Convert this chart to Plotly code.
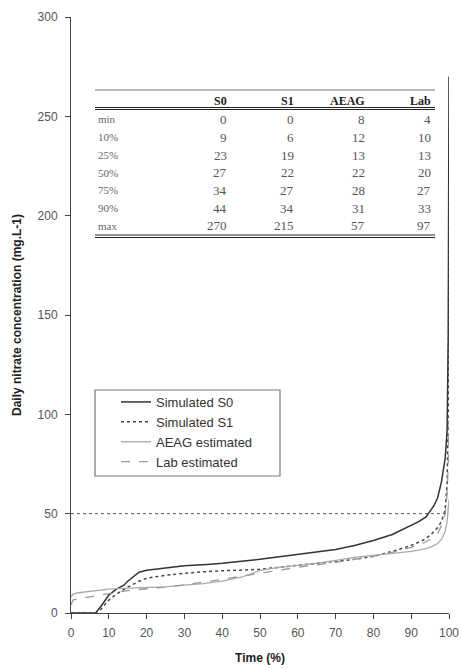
import plotly.graph_objects as go

# ---------------- data ----------------
s0_x = [0, 6.5, 8, 10, 12, 14, 15, 16, 18, 20, 23, 25, 30, 37, 40, 50, 60, 70, 75, 80, 85, 90, 92, 94, 95, 96, 97, 98, 99, 99.5, 99.8, 100]
s0_y = [0, 0, 3.5, 9, 12, 14, 16, 17.5, 20.5, 21.5, 22.2, 23, 23.8, 24.6, 25, 27, 29.5, 32, 34, 36.5, 39.5, 44, 46, 48.5, 51, 54, 58, 66, 78, 92, 140, 270]

s1_x = [0, 6.5, 8, 10, 12, 15, 18, 20, 25, 30, 37, 45, 50, 60, 70, 75, 80, 85, 90, 93, 95, 97, 98, 99, 99.5, 99.8, 99.9, 100]
s1_y = [0, 0, 2, 6.5, 9.5, 13, 16, 17.5, 19, 20, 21, 21.5, 22, 24, 26, 27, 28.5, 31, 34, 36.5, 39, 43, 46, 52, 65, 100, 150, 215]

aeag_x = [0, 0.5, 2, 5, 10, 15, 20, 25, 30, 35, 40, 45, 48, 50, 55, 60, 65, 70, 75, 80, 85, 90, 93, 95, 97, 98, 99, 99.5, 100]
aeag_y = [8, 9.5, 10.2, 11, 12, 12.5, 12.8, 13.2, 14, 14.8, 16, 18, 20, 21.5, 23, 24, 25, 26.5, 28, 29, 30, 31, 32, 33, 35, 37, 41, 46, 57]

lab_x = [0, 0.5, 2, 5, 8, 10, 15, 20, 25, 30, 37, 45, 50, 60, 70, 75, 80, 85, 90, 93, 95, 97, 98, 99, 99.5, 99.8, 100]
lab_y = [4, 6.5, 7.2, 8.2, 9.3, 10, 11.3, 12.2, 13, 14.2, 16, 18.5, 20, 23, 25.5, 27, 28.5, 30.5, 33, 35, 37, 40, 44, 50, 60, 75, 97]

threshold = 50

table_cols = ["S0", "S1", "AEAG", "Lab"]
table_rows = ["min", "10%", "25%", "50%", "75%", "90%", "max"]
table_S0 = [0, 9, 23, 27, 34, 44, 270]
table_S1 = [0, 6, 19, 22, 27, 34, 215]
table_AEAG = [8, 12, 13, 22, 28, 31, 57]
table_Lab = [4, 10, 13, 20, 27, 33, 97]

x_ticks = list(range(0, 101, 10))
y_ticks = list(range(0, 301, 50))

# ---------------- layout helpers ----------------
W, H = 461, 669
L, R, T, B = 71, 12, 17, 56
PW, PH = W - L - R, H - T - B


def xp(px):
    return (px - L) / PW


def yp(py):
    return (H - B - py) / PH


SANS = "Liberation Sans, Arial, sans-serif"
SERIF = "Liberation Serif, Times New Roman, serif"

fig = go.Figure()
fig.add_trace(go.Scatter(x=s0_x, y=s0_y, mode="lines", name="Simulated S0",
                         line=dict(color="#333333", width=1.5)))
fig.add_trace(go.Scatter(x=s1_x, y=s1_y, mode="lines", name="Simulated S1",
                         line=dict(color="#444444", width=1.5, dash="dot")))
fig.add_trace(go.Scatter(x=aeag_x, y=aeag_y, mode="lines", name="AEAG estimated",
                         line=dict(color="#aaaaaa", width=1.3)))
fig.add_trace(go.Scatter(x=lab_x, y=lab_y, mode="lines", name="Lab estimated",
                         line=dict(color="#999999", width=1.3, dash="dash")))

shapes = []
# 50 mg/L reference line
shapes.append(dict(type="line", xref="x", yref="y", x0=0, x1=100, y0=threshold, y1=threshold,
                   line=dict(color="#555555", width=1, dash="dot"), layer="below"))
# legend box
shapes.append(dict(type="rect", xref="paper", yref="paper", x0=xp(95), x1=xp(280), y0=yp(390), y1=yp(476),
                   line=dict(color="#777777", width=1.2), fillcolor="rgba(0,0,0,0)"))
# table rules
tl, tr = xp(95), xp(435)
for py, wd, col in [(90, 1.2, "#777777"), (107.5, 1.0, "#222222"), (109.5, 1.0, "#222222"),
                    (235, 1.0, "#222222"), (237.5, 1.0, "#222222")]:
    shapes.append(dict(type="line", xref="paper", yref="paper", x0=tl, x1=tr, y0=yp(py), y1=yp(py),
                       line=dict(color=col, width=wd)))

annotations = []
col_right = [229, 296, 367, 433]
row_y = [119.3, 137, 155, 172.5, 190.5, 208.5, 226]
header_y = 100.5
for c, xr in zip(table_cols, col_right):
    annotations.append(dict(text="<b>%s</b>" % c, xref="paper", yref="paper", x=xp(xr), y=yp(header_y),
                            xanchor="right", yanchor="middle", showarrow=False,
                            font=dict(family=SERIF, size=12, color="#222222")))
cols_vals = [table_S0, table_S1, table_AEAG, table_Lab]
for i, r in enumerate(table_rows):
    annotations.append(dict(text=r, xref="paper", yref="paper", x=xp(96), y=yp(row_y[i]),
                            xanchor="left", yanchor="middle", showarrow=False,
                            font=dict(family=SERIF, size=11, color="#666666")))
    for vals, xr in zip(cols_vals, col_right):
        annotations.append(dict(text=str(vals[i]), xref="paper", yref="paper", x=xp(xr), y=yp(row_y[i]),
                                xanchor="right", yanchor="middle", showarrow=False,
                                font=dict(family=SERIF, size=13, color="#555555")))

fig.update_layout(
    width=W, height=H,
    margin=dict(l=L, r=R, t=T, b=B, pad=0, autoexpand=False),
    paper_bgcolor="white", plot_bgcolor="white",
    showlegend=True,
    legend=dict(x=xp(116), y=yp(387), xanchor="left", yanchor="top",
                bgcolor="rgba(0,0,0,0)", borderwidth=0,
                font=dict(family=SANS, size=13, color="#333333"),
                tracegroupgap=0, itemwidth=30),
    shapes=shapes,
    annotations=annotations,
    font=dict(family=SANS),
)
fig.update_xaxes(range=[0, 100], tickvals=x_ticks, showgrid=False, zeroline=False, automargin=False,
                 showline=True, linecolor="#444444", linewidth=1,
                 ticks="outside", ticklen=5, tickcolor="#444444", ticklabelstandoff=4,
                 tickfont=dict(family=SANS, size=12, color="#555555"),
                 title=dict(text="<b>Time (%)</b>", standoff=14,
                            font=dict(family=SANS, size=12, color="#222222")))
fig.update_yaxes(range=[0, 300], tickvals=y_ticks, showgrid=False, zeroline=False, automargin=False,
                 showline=True, linecolor="#444444", linewidth=1,
                 ticks="outside", ticklen=5, tickcolor="#444444", ticklabelstandoff=5,
                 tickfont=dict(family=SANS, size=12, color="#555555"),
                 title=dict(text="<b>Daily nitrate concentration (mg.L-1)</b>", standoff=13,
                            font=dict(family=SANS, size=12, color="#222222")))

fig.write_html("out.html", config={"displayModeBar": False},
               post_script="document.body.style.margin='0';document.body.style.padding='0';"
                           "document.body.style.overflow='hidden';")
